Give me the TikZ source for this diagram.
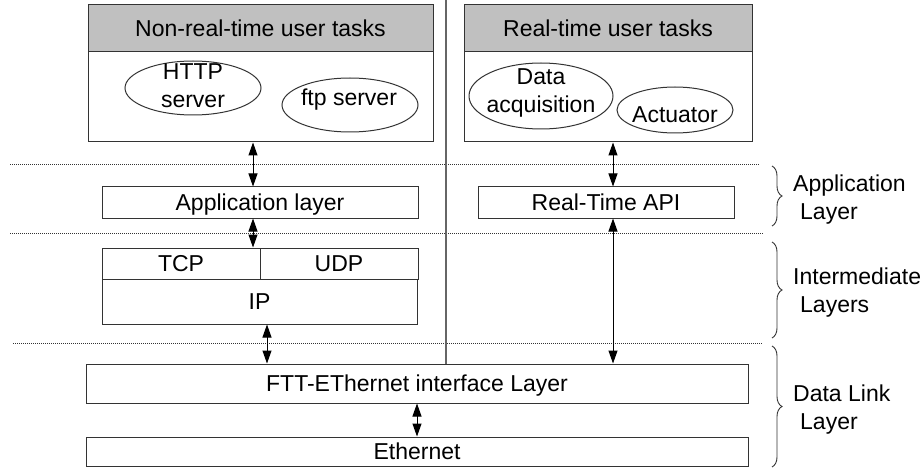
\documentclass[tikz,border=0pt]{standalone}
\usepackage{fontspec}
\setmainfont{Liberation Sans}
\usetikzlibrary{arrows.meta,shapes.geometric,decorations.pathreplacing}
\definecolor{hdrgray}{RGB}{192,192,192}
\definecolor{edge}{RGB}{51,51,51}

\begin{document}
\begin{tikzpicture}[x=1pt,y=-1pt,
  every node/.style={font=\fontsize{23}{28}\selectfont, inner sep=0pt},
  layerbox/.style={draw=edge, line width=1pt, fill=white, text height=16.5pt, text depth=0pt},
  hdrbox/.style={layerbox, fill=hdrgray},
  task/.style={draw=edge, line width=1pt, ellipse},
  biarrow/.style={line width=1pt, {Triangle[length=13pt,width=9pt]}-{Triangle[length=13pt,width=9pt]}},
  sep/.style={line width=1pt, dash pattern=on 1pt off 1pt, draw=black!80},
  divider/.style={line width=1.5pt, draw=black!60},
  layerbrace/.style={decorate, decoration={brace, amplitude=10pt}, line width=0.9pt, draw=edge},
]
\useasboundingbox (0,0) rectangle (924,468);

% layer separators
\coordinate (d1a) at (10,165);  \coordinate (d1b) at (760,165);
\coordinate (d2a) at (10,233);  \coordinate (d2b) at (763,233);
\coordinate (d3a) at (13,343);  \coordinate (d3b) at (762,343);
\draw[sep] (d1a) -- (d1b);
\draw[sep] (d2a) -- (d2b);
\draw[sep] (d3a) -- (d3b);

% user task areas
\node[hdrbox, minimum width=345pt, minimum height=47pt] (lhead) at (260.5,28.5) {Non-real-time user tasks};
\node[layerbox, minimum width=345pt, minimum height=90pt] (lbody) at (260.5,97) {};
\node[hdrbox, minimum width=288pt, minimum height=47pt] (rhead) at (608,28.5) {Real-time user tasks};
\node[layerbox, minimum width=288pt, minimum height=90pt] (rbody) at (608,97) {};

\node[task, minimum width=136pt, minimum height=54pt] (http) at (193,88) {};
\node[anchor=north, align=center] (httpt) at (193,63) {HTTP\\server};
\node[task, minimum width=136pt, minimum height=54pt] (ftp) at (350,105) {};
\node[anchor=base] (ftpt) at (349,106) {ftp server};
\node[task, minimum width=144pt, minimum height=66pt] (daq) at (541,96) {};
\node[anchor=north, align=center] (daqt) at (541,68) {Data\\acquisition};
\node[task, minimum width=116pt, minimum height=46pt] (act) at (675,110) {};
\node[anchor=base] (actt) at (675,123) {Actuator};

% protocol stack
\node[layerbox, minimum width=316pt, minimum height=31pt] (app) at (260,202.5) {Application layer};
\node[layerbox, minimum width=256pt, minimum height=31pt] (rtapi) at (606,202.5) {Real-Time API};
\node[layerbox, minimum width=158pt, minimum height=31pt] (tcp) at (181,263.5) {TCP};
\node[layerbox, minimum width=158pt, minimum height=31pt] (udp) at (339,263.5) {UDP};
\node[layerbox, minimum width=315pt, minimum height=45pt] (ip) at (259.5,301.5) {IP};
\node[layerbox, minimum width=662pt, minimum height=39pt] (ftt) at (417,383.5) {FTT-EThernet interface Layer};
\node[layerbox, minimum width=662pt, minimum height=29pt] (eth) at (417,451.5) {Ethernet};

% divider between non-real-time and real-time sides
\coordinate (divtop) at (446,0);
\draw[divider] (divtop) -- (divtop |- ftt.north);

% data paths
\coordinate (colL) at (253,0);
\coordinate (colIP) at (267,0);
\coordinate (colR) at (613,0);
\draw[biarrow] (lbody.south -| colL) -- (app.north -| colL);
\draw[biarrow] (app.south -| colL) -- (tcp.north -| colL);
\draw[biarrow] (ip.south -| colIP) -- (ftt.north -| colIP);
\draw[biarrow] (rbody.south -| colR) -- (rtapi.north -| colR);
\draw[biarrow] (rtapi.south -| colR) -- (ftt.north -| colR);
\draw[biarrow] (ftt.south) -- (eth.north);

% layer braces
\coordinate (bA1) at (772,166); \coordinate (bA2) at (772,226);
\coordinate (bI1) at (772,242); \coordinate (bI2) at (772,338);
\coordinate (bD1) at (772,346); \coordinate (bD2) at (772,467);
\draw[layerbrace] (bA1) -- (bA2);
\draw[layerbrace] (bI1) -- (bI2);
\draw[layerbrace] (bD1) -- (bD2);
\node[anchor=north west, align=left] (lblA) at (793,175) {Application\\\hspace*{7pt}Layer};
\node[anchor=north west, align=left] (lblI) at (793,268) {Intermediate\\\hspace*{7pt}Layers};
\node[anchor=north west, align=left] (lblD) at (793,385) {Data Link\\\hspace*{7pt}Layer};
\end{tikzpicture}
\end{document}
